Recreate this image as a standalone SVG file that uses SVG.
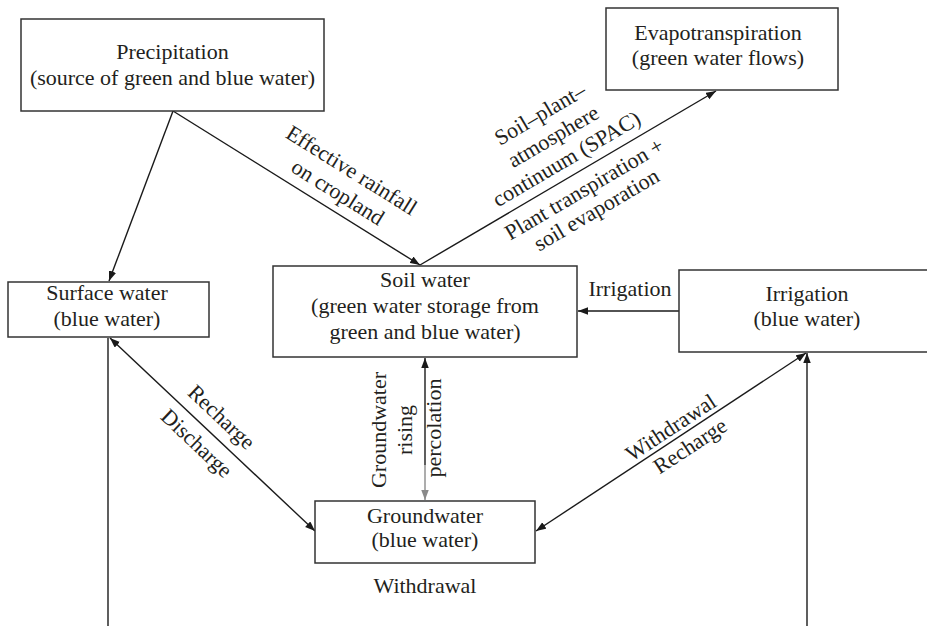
<svg xmlns="http://www.w3.org/2000/svg" width="927" height="626" viewBox="0 0 927 626">
  <style>
    text { font-family: "Liberation Serif", "Times New Roman", serif; font-size: 22px; fill: #231f20; }
    .c { text-anchor: middle; }
    .box { fill: #ffffff; stroke: #333333; stroke-width: 1.5; }
    .ln { fill: none; stroke: #1a1a1a; stroke-width: 1.4; }
    .gray { fill: none; stroke: #8a8a8a; stroke-width: 1.4; }
  </style>
  <defs>
    <marker id="ah" markerUnits="userSpaceOnUse" markerWidth="11" markerHeight="8" refX="10" refY="3.75" orient="auto-start-reverse">
      <path d="M0,0 L10,3.75 L0,7.5 z" fill="#1a1a1a"/>
    </marker>
    <marker id="ahg" markerUnits="userSpaceOnUse" markerWidth="11" markerHeight="8" refX="10" refY="3.75" orient="auto-start-reverse">
      <path d="M0,0 L10,3.75 L0,7.5 z" fill="#8a8a8a"/>
    </marker>
  </defs>
  <rect width="927" height="626" fill="#ffffff"/>

  <!-- connectors -->
  <g id="connectors">
    <line class="ln" x1="173" y1="111" x2="109" y2="281" marker-end="url(#ah)"/>
    <line class="ln" x1="173" y1="111" x2="420" y2="265" marker-end="url(#ah)"/>
    <line class="ln" x1="420" y1="265" x2="716" y2="91" marker-end="url(#ah)"/>
    <line class="ln" x1="679" y1="311" x2="578" y2="311" marker-end="url(#ah)"/>
    <line class="ln" x1="110" y1="338" x2="315" y2="531" marker-start="url(#ah)" marker-end="url(#ah)"/>
    <line class="ln" x1="536" y1="531" x2="806" y2="353" marker-start="url(#ah)" marker-end="url(#ah)"/>
    <line class="ln" x1="807" y1="626" x2="807" y2="353" marker-end="url(#ah)"/>
    <line class="ln" x1="108" y1="338" x2="108" y2="626"/>
    <!-- soil water / groundwater exchange -->
    <line class="ln" x1="425" y1="465" x2="425" y2="358" marker-end="url(#ah)"/>
    <line class="gray" x1="425" y1="465" x2="425" y2="500" marker-end="url(#ahg)"/>

    <!-- connector labels -->
    <g transform="translate(328.2,207.8) rotate(31.94)">
      <text class="c" y="-37">Effective rainfall</text>
      <text class="c" y="-11">on cropland</text>
    </g>
    <g transform="translate(575.2,173.7) rotate(-30.45)">
      <text class="c" y="-62">Soil–plant–</text>
      <text class="c" y="-36">atmosphere</text>
      <text class="c" y="-10">continuum (SPAC)</text>
      <text class="c" y="25">Plant transpiration +</text>
      <text class="c" y="49">soil evaporation</text>
    </g>
    <text class="c" x="630" y="296">Irrigation</text>
    <g transform="translate(208.9,430.4) rotate(43.42)">
      <text class="c" y="-11">Recharge</text>
      <text class="c" y="25">Discharge</text>
    </g>
    <g transform="translate(677,437) rotate(-33.3)">
      <text class="c" y="-4">Withdrawal</text>
      <text class="c" x="6" y="22">Recharge</text>
    </g>
    <text class="c" transform="translate(386,430) rotate(-90)">Groundwater</text>
    <text class="c" transform="translate(412,430) rotate(-90)">rising</text>
    <text class="c" transform="translate(441,428) rotate(-90)">percolation</text>
    <text class="c" x="425" y="593">Withdrawal</text>
  </g>

  <!-- nodes -->
  <g id="precipitation">
    <rect class="box" x="21" y="19" width="303" height="92"/>
    <text class="c" x="172.5" y="59">Precipitation</text>
    <text class="c" x="172.5" y="85">(source of green and blue water)</text>
  </g>
  <g id="evapotranspiration">
    <rect class="box" x="606" y="8" width="232" height="82"/>
    <text class="c" x="718" y="40">Evapotranspiration</text>
    <text class="c" x="718" y="65">(green water flows)</text>
  </g>
  <g id="surface-water">
    <rect class="box" x="8" y="282" width="201" height="55"/>
    <text class="c" x="107" y="300">Surface water</text>
    <text class="c" x="107" y="326">(blue water)</text>
  </g>
  <g id="soil-water">
    <rect class="box" x="273" y="266" width="304" height="91"/>
    <text class="c" x="425" y="287">Soil water</text>
    <text class="c" x="425" y="313">(green water storage from</text>
    <text class="c" x="425" y="339">green and blue water)</text>
  </g>
  <g id="irrigation">
    <rect class="box" x="679" y="270" width="260" height="82"/>
    <text class="c" x="807" y="301">Irrigation</text>
    <text class="c" x="807" y="326">(blue water)</text>
  </g>
  <g id="groundwater">
    <rect class="box" x="315" y="501" width="220" height="62"/>
    <text class="c" x="425" y="523">Groundwater</text>
    <text class="c" x="425" y="547">(blue water)</text>
  </g>
</svg>
